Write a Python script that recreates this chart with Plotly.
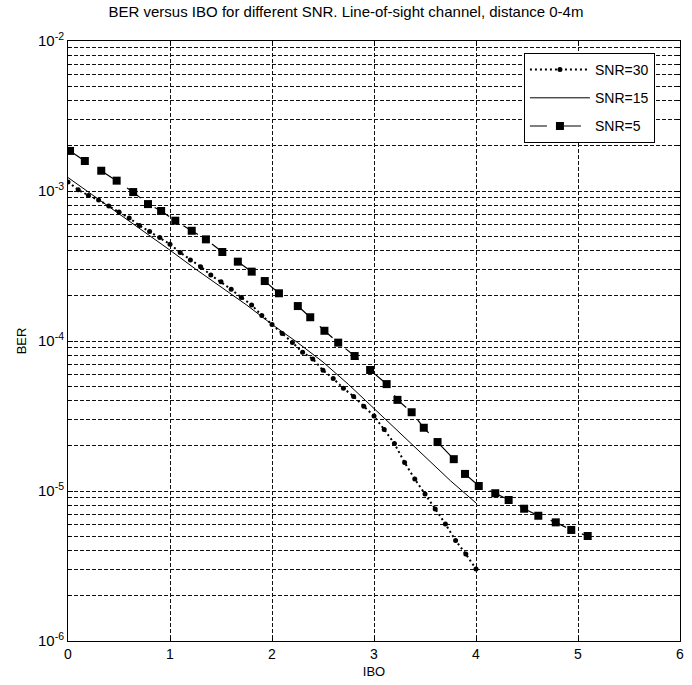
import plotly.graph_objects as go

# ---- data ----
ibo_30 = [round(0.1 * i, 1) for i in range(41)]
ber_30 = [1.15e-3, 1.02e-3, 9.33e-4, 8.71e-4, 7.94e-4, 7.24e-4, 6.61e-4, 5.89e-4, 5.37e-4, 4.90e-4,
          4.42e-4, 3.89e-4, 3.47e-4, 3.13e-4, 2.75e-4, 2.48e-4, 2.21e-4, 1.95e-4, 1.74e-4, 1.48e-4,
          1.29e-4, 1.12e-4, 9.77e-5, 8.41e-5, 7.59e-5, 6.38e-5, 5.62e-5, 4.84e-5, 4.27e-5, 3.67e-5,
          3.16e-5, 2.57e-5, 2.07e-5, 1.55e-5, 1.20e-5, 9.55e-6, 7.59e-6, 6.03e-6, 4.68e-6, 3.80e-6,
          3.02e-6]

ibo_15 = [0, 0.25, 0.5, 0.75, 1.0, 1.25, 1.5, 1.75, 2.0, 2.25, 2.5, 2.75, 3.0, 3.25, 3.5, 3.75, 4.0]
ber_15 = [1.23e-3, 9.33e-4, 7.08e-4, 5.37e-4, 4.03e-4, 3.02e-4, 2.29e-4, 1.74e-4, 1.29e-4,
          9.77e-5, 7.24e-5, 5.13e-5, 3.55e-5, 2.45e-5, 1.70e-5, 1.17e-5, 8.32e-6]

ibo_5 = [0.02, 0.165, 0.326, 0.477, 0.639, 0.784, 0.913, 1.052, 1.213, 1.352, 1.513, 1.665,
         1.801, 1.929, 2.068, 2.253, 2.375, 2.514, 2.649, 2.81, 2.962, 3.124, 3.23, 3.369,
         3.488, 3.623, 3.782, 3.892, 4.027, 4.189, 4.32, 4.472, 4.611, 4.782, 4.934, 5.095]
ber_5 = [1.85e-3, 1.585e-3, 1.365e-3, 1.172e-3, 9.84e-4, 8.18e-4, 7.36e-4, 6.34e-4, 5.43e-4,
         4.76e-4, 3.92e-4, 3.38e-4, 2.90e-4, 2.51e-4, 2.08e-4, 1.71e-4, 1.44e-4, 1.17e-4,
         9.75e-5, 7.94e-5, 6.41e-5, 5.16e-5, 4.05e-5, 3.35e-5, 2.64e-5, 2.12e-5, 1.63e-5,
         1.30e-5, 1.08e-5, 9.66e-6, 8.71e-6, 7.62e-6, 6.84e-6, 6.18e-6, 5.50e-6, 5.01e-6]

x_ticks = [0, 1, 2, 3, 4, 5, 6]
y_ticks = [1e-6, 1e-5, 1e-4, 1e-3, 1e-2]
y_tick_text = ["10<sup>-6</sup>", "10<sup>-5</sup>", "10<sup>-4</sup>", "10<sup>-3</sup>", "10<sup>-2</sup>"]
y_minor = [m * 10.0 ** e for e in range(-6, -2) for m in range(2, 10)]

FONT = "Liberation Sans, Arial, sans-serif"

fig = go.Figure()
fig.add_trace(go.Scatter(
    x=ibo_30, y=ber_30, name="SNR=30", mode="lines+markers",
    line=dict(color="black", width=2, dash="2px,3px"),
    marker=dict(symbol="circle", size=5, color="black"),
    legendgroup="a"))
fig.add_trace(go.Scatter(
    x=ibo_15, y=ber_15, name="SNR=15", mode="lines",
    line=dict(color="black", width=1),
    legendgroup="b"))
fig.add_trace(go.Scatter(
    x=ibo_5, y=ber_5, name="SNR=5", mode="lines+markers",
    line=dict(color="black", width=1.2, dash="17px,17px"),
    marker=dict(symbol="square", size=8, color="black"),
    legendgroup="c"))

grid_style = dict(showgrid=True, gridcolor="#111111", gridwidth=1, griddash="4px,2px")

fig.update_layout(
    width=692, height=685,
    margin=dict(l=68, r=8, t=41, b=44),
    paper_bgcolor="white", plot_bgcolor="white",
    font=dict(family=FONT, size=13, color="black"),
    title=dict(text="BER versus IBO for different SNR. Line-of-sight channel, distance 0-4m",
               x=0.50, xanchor="center", y=0.99, yanchor="top",
               font=dict(family=FONT, size=15, color="black")),
    showlegend=True,
    legend=dict(x=0.745, y=0.98, xanchor="left", yanchor="top",
                bgcolor="white", bordercolor="black", borderwidth=1,
                font=dict(family=FONT, size=14, color="black"),
                traceorder="grouped", tracegroupgap=7, itemwidth=60),
    xaxis=dict(range=[0, 6], tickvals=x_ticks, ticktext=[str(v) for v in x_ticks],
               tickfont=dict(size=14), ticklabeloverflow="allow",
               title=dict(text="IBO", standoff=6, font=dict(size=13)),
               showline=True, linecolor="black", linewidth=1, mirror="ticks",
               ticks="inside", ticklen=5, tickcolor="black", zeroline=False,
               **grid_style),
    yaxis=dict(type="log", range=[-6, -2], tickvals=y_ticks, ticktext=y_tick_text,
               tickfont=dict(size=15),
               title=dict(text="BER", standoff=8, font=dict(size=13)),
               showline=True, linecolor="black", linewidth=1, mirror="ticks",
               ticks="inside", ticklen=5, tickcolor="black", zeroline=False,
               minor=dict(tickmode="array", tickvals=y_minor, ticks="inside", ticklen=3,
                          tickcolor="black", showgrid=True, gridcolor="#111111",
                          gridwidth=1, griddash="4px,2px"),
               **grid_style),
)

fig.write_html("out.html")
